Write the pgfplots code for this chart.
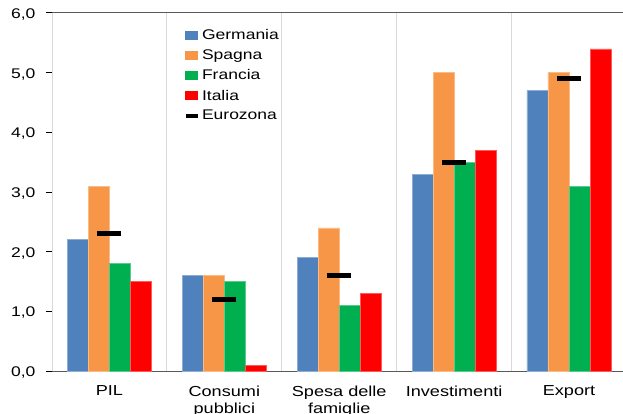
\documentclass[border=0pt]{standalone}
\usepackage{pgfplots}
\usepackage{pgfplotstable}
\pgfplotsset{compat=1.18}
\usepackage{fontspec}
\setmainfont{Liberation Sans}
\newfontfamily\wf[FakeStretch=1.25]{Liberation Sans}
\definecolor{cG}{HTML}{4F81BD}
\definecolor{cS}{HTML}{F79646}
\definecolor{cF}{HTML}{00B050}
\definecolor{cI}{HTML}{FF0000}
\definecolor{gridc}{HTML}{D9D9D9}
\definecolor{axc}{HTML}{595959}
\pgfplotstableread{
x G S F I E
0 2.2 3.1 1.8 1.5 2.3
1 1.6 1.6 1.5 0.1 1.2
2 1.9 2.4 1.1 1.3 1.6
3 3.3 5.0 3.5 3.7 3.5
4 4.7 5.0 3.1 5.4 4.9
}\data
\pgfplotsset{
  mybar/.style={ybar, bar width=0.183, fill=#1, draw=#1!65!white, line width=0.6pt,
    legend image code/.code={\fill[#1] (0pt,-4pt) rectangle (12pt,4.5pt);}},
}
\begin{document}
\begin{tikzpicture}
\begin{axis}[
  scale only axis, width=571pt, height=358pt,
  xmin=-0.5, xmax=4.47, ymin=0, ymax=6,
  axis x line*=box, axis y line*=left,
  x axis line style={axc, line width=1pt},
  y axis line style={black, line width=1pt},
  major tick length=6pt,
  tick align=outside,
  xtick={0,1,2,3,4},
  xticklabels={PIL,{Consumi\\pubblici},{Spesa delle\\famiglie},Investimenti,Export},
  xtick pos=bottom,
  x tick style={draw=none},
  x tick label style={align=center, font=\wf\fontsize{14.5}{17}\selectfont, yshift=-5pt},
  extra x ticks={-0.5,0.5,1.5,2.5,3.5},
  extra x tick labels={},
  extra x tick style={grid=major, major grid style={gridc, line width=1pt},
     tick style={draw=axc, line width=1pt}},
  ytick={0,1,2,3,4,5,6},
  ytick pos=left,
  y tick style={black, line width=1pt},
  y tick label style={font=\wf\fontsize{14}{17}\selectfont, xshift=-7pt, yshift=-1.5pt},
  yticklabel style={/pgf/number format/.cd, fixed, fixed zerofill, precision=1, use comma, assume math mode=true},
  legend style={at={(0.230,0.960)}, anchor=north west, draw=none, fill=none,
    font=\wf\fontsize{14}{17}\selectfont, row sep=4.6pt, inner sep=0pt,
    /tikz/every even column/.append style={column sep=3pt}},
  legend cell align=left,
  clip=false,
]
\addplot[mybar=cG, bar shift=-0.2745] table[x=x,y=G]{\data};
\addplot[mybar=cS, bar shift=-0.0915] table[x=x,y=S]{\data};
\addplot[mybar=cF, bar shift=0.0915] table[x=x,y=F]{\data};
\addplot[mybar=cI, bar shift=0.2745] table[x=x,y=I]{\data};
\addplot[only marks, mark=-, mark size=12pt, mark options={line width=5pt, draw=black},
  legend image code/.code={\draw[black, line width=4pt] (0pt,0pt) -- (12.5pt,0pt);}]
  table[x=x,y=E]{\data};
\legend{Germania,Spagna,Francia,Italia,Eurozona}
\end{axis}
\pgfresetboundingbox
\path[use as bounding box] ([xshift=-52pt,yshift=-42pt]current axis.south west) rectangle ([yshift=13pt]current axis.north east);
\end{tikzpicture}
\end{document}
